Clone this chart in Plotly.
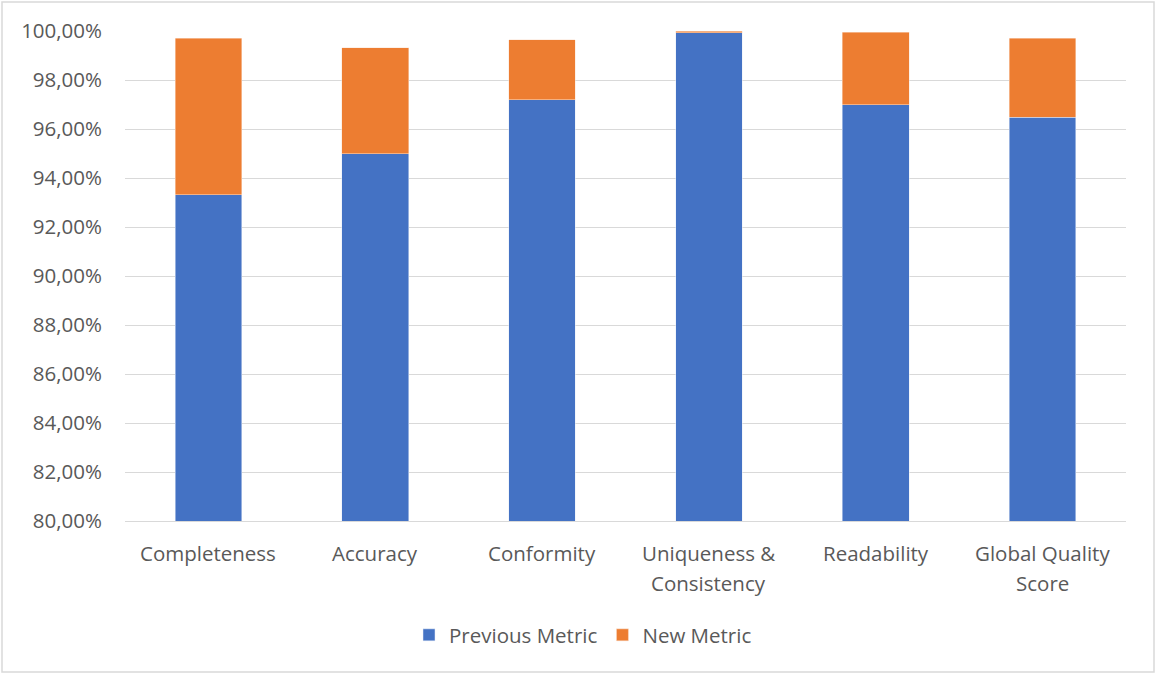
import plotly.graph_objects as go

categories = ["Completeness", "Accuracy", "Conformity",
              "Uniqueness &<br>Consistency", "Readability", "Global Quality<br>Score"]
previous_metric = [93.31, 94.98, 97.20, 99.93, 96.98, 96.49]
new_metric = [6.40, 4.33, 2.45, 0.06, 2.97, 3.22]
y_ticks = [80, 82, 84, 86, 88, 90, 92, 94, 96, 98, 100]
y_tick_labels = [f"{v:.2f}%".replace(".", ",") for v in y_ticks]

BLUE = "#4472C4"
ORANGE = "#ED7D31"
TEXT = "#595959"
GRID = "#D9D9D9"
FONT = "'Open Sans', Lato, sans-serif"
FS = 20.5

fig = go.Figure()
fig.add_trace(go.Bar(x=categories, y=previous_metric, name="Previous Metric",
                     marker=dict(color=BLUE, line=dict(color="#E8EEF8", width=0.5))))
fig.add_trace(go.Bar(x=categories, y=new_metric, name="New Metric",
                     marker=dict(color=ORANGE, line=dict(color="#FBE3D3", width=0.5))))

W, H = 1157, 675
L, R, T, B = 125, 31, 31, 154
pw, ph = W - L - R, H - T - B

def px_x(x):
    return (x - L) / pw

def px_y(y):
    return (H - B - y) / ph

# category labels drawn line by line for Office-like line spacing
annotations = []
for cat in categories:
    for i, line in enumerate(cat.split("<br>")):
        annotations.append(dict(x=cat, xref="x", y=px_y(553 + 30 * i), yref="paper",
                                text=line, showarrow=False, xanchor="center",
                                yanchor="middle", font=dict(size=FS, color=TEXT)))

fig.update_layout(
    width=W, height=H,
    barmode="stack", bargap=0.6,
    plot_bgcolor="white", paper_bgcolor="white",
    margin=dict(l=L, r=R, t=T, b=B, pad=0),
    font=dict(family=FONT, size=FS, color=TEXT),
    showlegend=True,
    legend=dict(orientation="h", x=px_x(583), xanchor="center", y=px_y(635), yanchor="middle",
                font=dict(size=FS, color=TEXT), traceorder="normal",
                itemwidth=30, bgcolor="rgba(0,0,0,0)"),
    xaxis=dict(showgrid=False, showline=True, linecolor=GRID, linewidth=1,
               ticks="", showticklabels=False),
    yaxis=dict(range=[80, 100], tickvals=y_ticks, ticktext=y_tick_labels,
               showgrid=True, gridcolor=GRID, gridwidth=1, zeroline=False,
               showline=False, ticks="", tickfont=dict(size=FS, color=TEXT),
               ticklabelstandoff=22),
    annotations=annotations,
    shapes=[dict(type="rect", xref="paper", yref="paper",
                 x0=px_x(2), x1=px_x(1154), y0=px_y(672), y1=px_y(2),
                 line=dict(color="#D9D9D9", width=1.5), fillcolor="rgba(0,0,0,0)",
                 layer="below")],
)

fig.write_html("out.html")
